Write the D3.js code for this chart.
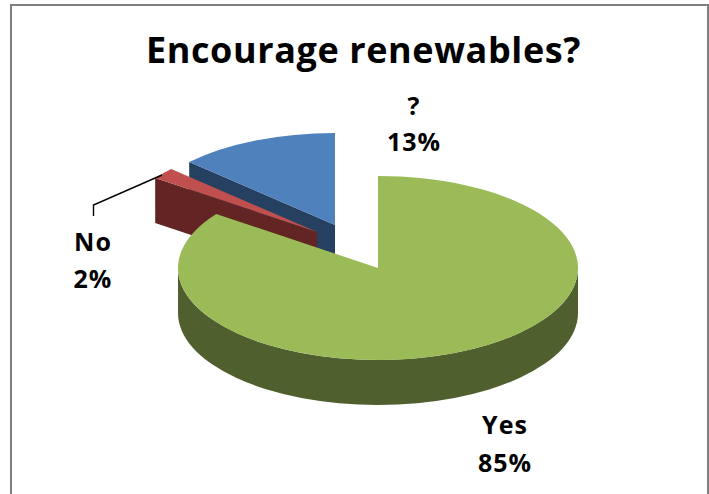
<!DOCTYPE html>
<html><head><meta charset="utf-8">
<style>html,body{margin:0;padding:0;background:#fff}svg{display:block}text{font-family:"Open Sans",Lato,sans-serif;font-weight:700;fill:#000;text-anchor:middle}</style>
<script src="https://cdn.jsdelivr.net/npm/d3@7"></script>
</head><body><svg id="c" width="709" height="494"></svg>
<script>
const chartTitle = "Encourage renewables?";
const categories = ["Yes", "No", "?"];
const shares = [85, 2, 13];
const topColors = ["#9BBB59", "#C0504D", "#4F81BD"];
const wallColors = ["#4F5F2D", "#632523", "#254061"];
const centersX = [378, 317, 335];
const centersY = [268, 232, 225];
const labelX = [505, 93, 414];
const labelY = [[434, 472], [251, 288], [115, 151]];

const W = 709, H = 494, rx = 200, ry = 92, depth = 45;
const svg = d3.select("#c");

svg.append("rect").attr("x", 11).attr("y", 5).attr("width", 697).attr("height", H + 20)
  .attr("fill", "#fff").attr("stroke", "#7f7f7f").attr("stroke-width", 2);

const total = d3.sum(shares);
const pie = d3.pie().sort(null).value(d => d)(shares);
const arc = d3.arc().innerRadius(0).outerRadius(rx);
const px = (i, a) => centersX[i] + rx * Math.sin(a);
const py = (i, a) => centersY[i] - ry * Math.cos(a);

function radialWall(i, a) {
  return `M${centersX[i]},${centersY[i]}L${px(i,a)},${py(i,a)}L${px(i,a)},${py(i,a)+depth}L${centersX[i]},${centersY[i]+depth}Z`;
}
function outerWall(i, a0, a1) {
  const xs = px(i,a0), ys = py(i,a0), xe = px(i,a1), ye = py(i,a1);
  return `M${xs},${ys}A${rx},${ry} 0 0 1 ${xe},${ye}L${xe},${ye+depth}A${rx},${ry} 0 0 0 ${xs},${ys+depth}Z`;
}

// back to front: ? (index 2), No (index 1), Yes (index 0)
[2, 1, 0].forEach(i => {
  const p = pie[i];
  const g = svg.append("g");
  if (i === 0) {
    g.append("path").attr("d", outerWall(i, Math.PI / 2, Math.PI * 1.5)).attr("fill", wallColors[i]);
  } else {
    g.append("path").attr("d", radialWall(i, p.startAngle)).attr("fill", wallColors[i]);
  }
  g.append("path")
    .attr("d", arc(p))
    .attr("transform", `translate(${centersX[i]},${centersY[i]}) scale(1,${ry / rx})`)
    .attr("fill", topColors[i]);
});

svg.append("path").attr("d", d3.line()([[93.5, 216], [93.5, 205], [162, 175]]))
  .attr("fill", "none").attr("stroke", "#000").attr("stroke-width", 1.4);

svg.append("text").attr("x", 363.5).attr("y", 63).attr("font-size", 36).attr("letter-spacing", 0.6).text(chartTitle);

categories.forEach((c, i) => {
  svg.append("text").attr("x", labelX[i]).attr("y", labelY[i][0]).attr("font-size", 25).attr("letter-spacing", 1).text(c);
  svg.append("text").attr("x", labelX[i]).attr("y", labelY[i][1]).attr("font-size", 25).attr("letter-spacing", 1)
    .text(Math.round(shares[i] / total * 100) + "%");
});
</script></body></html>
